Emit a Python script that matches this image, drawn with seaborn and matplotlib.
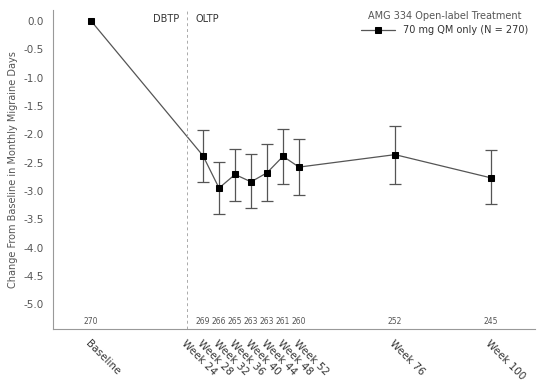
import numpy as np
import pandas as pd
import matplotlib
matplotlib.use("Agg")
import matplotlib.pyplot as plt
import seaborn as sns

# data
weeks = [0, 28, 32, 36, 40, 44, 48, 52, 76, 100]
change = [0.0, -2.38, -2.95, -2.71, -2.84, -2.68, -2.39, -2.58, -2.36, -2.77]
err_hi = [0.0, -1.92, -2.49, -2.26, -2.35, -2.18, -1.91, -2.08, -1.85, -2.28]
err_lo = [0.0, -2.85, -3.41, -3.18, -3.31, -3.18, -2.88, -3.08, -2.87, -3.23]
n_subj = [270, 269, 266, 265, 263, 263, 261, 260, 252, 245]
tick_weeks = [0, 24, 28, 32, 36, 40, 44, 48, 52, 76, 100]
tick_labels = ["Baseline", "Week 24", "Week 28", "Week 32", "Week 36", "Week 40",
               "Week 44", "Week 48", "Week 52", "Week 76", "Week 100"]

df = pd.DataFrame({"week": weeks, "change": change})

sns.set_style("white")
plt.rcParams["font.family"] = ["DejaVu Sans"]
gray = "#555555"

fig = plt.figure(figsize=(5.47, 3.9), dpi=100)
ax = fig.add_axes([0.097, 0.156, 0.881, 0.818])

# error bars (skip baseline)
yerr = np.array([[c - lo for c, lo in zip(change, err_lo)],
                 [hi - c for c, hi in zip(change, err_hi)]])
ax.errorbar(weeks[1:], change[1:], yerr=yerr[:, 1:], fmt="none",
            ecolor="#555555", elinewidth=0.9, capsize=4.5, capthick=0.9)

sns.lineplot(data=df, x="week", y="change", ax=ax, color="#555555",
             linewidth=0.9, marker="s", markersize=4.5, markerfacecolor="black",
             markeredgecolor="black", label="70 mg QM only (N = 270)")

ax.axvline(24, color="#aaaaaa", linestyle=(0, (3, 3)), linewidth=0.7)
ax.text(22, -0.05, "DBTP", ha="right", va="bottom", fontsize=7, color="#333333")
ax.text(26, -0.05, "OLTP", ha="left", va="bottom", fontsize=7, color="#333333")

for w, n in zip(weeks, n_subj):
    ax.annotate(str(n), xy=(w, 0), xycoords=("data", "axes fraction"),
                xytext=(0, 2), textcoords="offset points",
                ha="center", va="bottom", fontsize=5.5, color=gray)

ax.set_xlim(-9.5, 111)
ax.set_ylim(-5.44, 0.19)
ax.set_yticks(np.arange(0, -5.01, -0.5))
ax.set_yticklabels([f"{v:.1f}" for v in np.arange(0, -5.01, -0.5)])
ax.set_xticks(tick_weeks)
ax.set_xticklabels(tick_labels, rotation=-45, ha="left", rotation_mode="anchor")
ax.tick_params(axis="both", labelsize=7.5, colors=gray, length=3, width=0.7)
ax.tick_params(axis="x", labelcolor="#333333")
ax.set_xlabel("")
ax.set_ylabel("Change From Baseline in Monthly Migraine Days", fontsize=7, color=gray)

for s in ["top", "right"]:
    ax.spines[s].set_visible(False)
for s in ["left", "bottom"]:
    ax.spines[s].set_color("#999999")
    ax.spines[s].set_linewidth(0.8)

leg = ax.legend(title="AMG 334 Open-label Treatment", loc="upper right",
                bbox_to_anchor=(1.0, 1.02), frameon=False, fontsize=7,
                title_fontsize=7, handlelength=3.5, borderpad=0.2)
leg.get_title().set_color(gray)
for t in leg.get_texts():
    t.set_color("#333333")

fig.savefig("out.png", dpi=100)
